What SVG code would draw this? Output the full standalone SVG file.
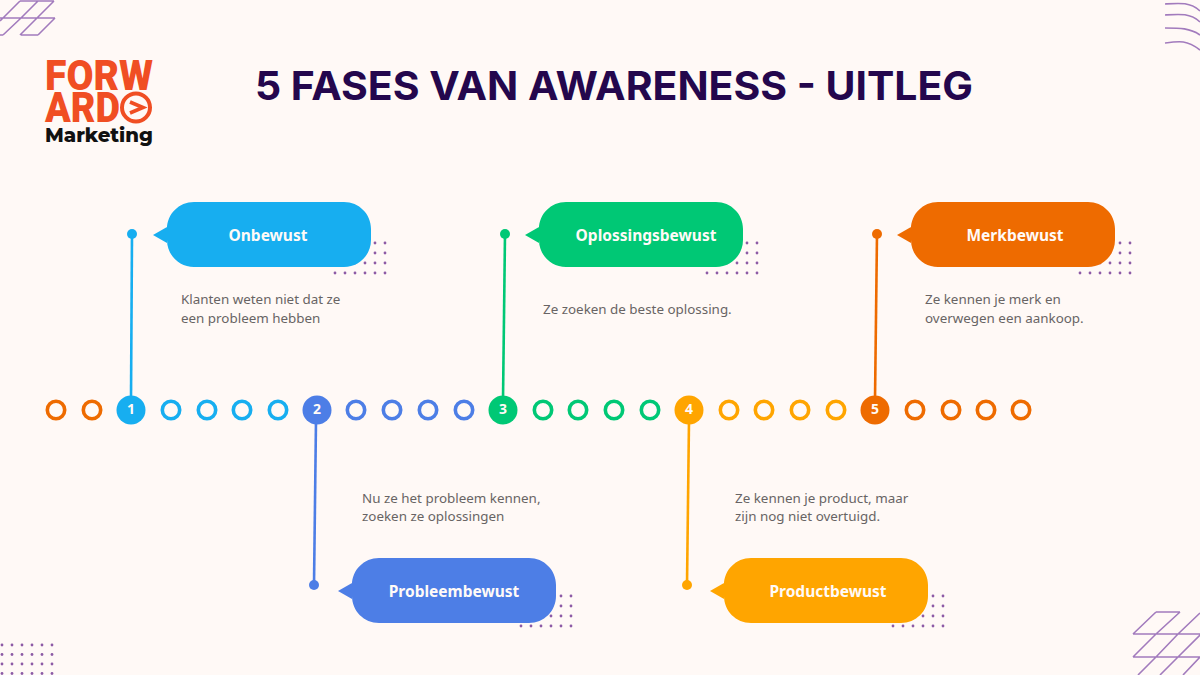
<svg xmlns="http://www.w3.org/2000/svg" width="1200" height="675" viewBox="0 0 1200 675">
<style>
.deco{fill:none;stroke:#a27bbd;stroke-width:1.6}
.label{font:700 15.5px "Noto Sans",sans-serif;fill:#fffaf7;text-anchor:middle}
.body{font:400 13.4px "Noto Sans",sans-serif;fill:#686464}
.num{font:700 14px "Noto Sans",sans-serif;fill:#fffaf7;text-anchor:middle}
.ring{fill:none;stroke-width:3.6}
.dot{fill:#8d5ba6}
.conn{fill:none;stroke-width:2.6}
.logo{font-family:"Roboto",sans-serif;font-weight:900;fill:#f04e23}
</style>
<defs>
<g id="dots"><g id="dotrow"><circle class="dot" cx="0" cy="0" r="1.4"/><circle class="dot" cx="10" cy="0" r="1.4"/><circle class="dot" cx="20" cy="0" r="1.4"/><circle class="dot" cx="30" cy="0" r="1.4"/><circle class="dot" cx="40" cy="0" r="1.4"/><circle class="dot" cx="50" cy="0" r="1.4"/></g><use href="#dotrow" y="10"/><use href="#dotrow" y="20"/><use href="#dotrow" y="30"/></g>
<path id="bubble" d="M0 25V27C0 12 12 0 27 0H177C192 0 204 12 204 27V38C204 53 192 65 177 65H27C12 65 0 53 0 38V41L-14 33L0 25Z"/>
</defs>
<rect width="1200" height="675" fill="#fff9f6"/>
<g id="decor">
<path class="deco" d="M20 1H54M0 18H55M0 35H3M21 35H38M54 1L37 18L20 35M55 18L38 35M38 1L21 18L3 35M20 1L3 18L0 21"/>
<path class="deco" d="M1165 4C1180 3 1190 2 1200 11M1165 15C1180 14 1190 13 1200 22M1165 28C1180 28 1190 28 1200 35M1165 43C1180 41 1187 40 1200 50"/>
<path class="deco" d="M1156 612H1180M1133 634H1200M1133 657H1200M1156 612L1133 634M1180 612L1156 634L1133 657M1200 613L1178 634L1156 657L1138 675M1200 635L1178 657L1160 675M1200 657L1183 675"/>
<g transform="translate(2,645)"><use href="#dotrow"/><use href="#dotrow" y="9.500"/><use href="#dotrow" y="19"/><use href="#dotrow" y="28.500"/></g>
<use href="#dots" transform="translate(335,243)"/>
<use href="#dots" transform="translate(521,596)"/>
<use href="#dots" transform="translate(707,243)"/>
<use href="#dots" transform="translate(893,596)"/>
<use href="#dots" transform="translate(1080,243)"/>
</g>
<g id="logo">
<text class="logo" x="45" y="90" font-size="42" textLength="108" lengthAdjust="spacingAndGlyphs">FORW</text>
<text class="logo" x="45" y="122" font-size="42" textLength="75" lengthAdjust="spacingAndGlyphs">ARD</text>
<circle cx="136" cy="107.500" r="14" fill="none" stroke="#f04e23" stroke-width="4"/>
<path d="M130 102L143 107.500L130 113" fill="none" stroke="#f04e23" stroke-width="3.600"/>
<text x="45" y="142" font-family="Montserrat,'Open Sans',sans-serif" font-weight="800" font-size="19" fill="#111" textLength="108" lengthAdjust="spacingAndGlyphs">Marketing</text>
</g>
<text id="title" x="614" y="100" font-family="Inter,'Noto Sans',sans-serif" font-weight="700" font-size="40" fill="#24074d" text-anchor="middle" textLength="718" lengthAdjust="spacingAndGlyphs">5 FASES VAN AWARENESS - UITLEG</text>
<g id="connectors">
<path class="conn" stroke="#17aef0" d="M132 234L131 400"/>
<path class="conn" stroke="#4d7ee6" d="M316 420L314 585"/>
<path class="conn" stroke="#00c875" d="M505 234L503 400"/>
<path class="conn" stroke="#ffa500" d="M689 420L687 585"/>
<path class="conn" stroke="#ee6b00" d="M877 234L875 400"/>
</g>
<g id="timeline">
<g stroke="#ee6b00" class="ring"><circle cx="56" cy="410" r="8.700"/><circle cx="92" cy="410" r="8.700"/></g>
<g stroke="#17aef0" class="ring"><circle cx="171" cy="410" r="8.700"/><circle cx="207" cy="410" r="8.700"/><circle cx="242" cy="410" r="8.700"/><circle cx="278" cy="410" r="8.700"/></g>
<g stroke="#4d7ee6" class="ring"><circle cx="356" cy="410" r="8.700"/><circle cx="392" cy="410" r="8.700"/><circle cx="428" cy="410" r="8.700"/><circle cx="464" cy="410" r="8.700"/></g>
<g stroke="#00c875" class="ring"><circle cx="543" cy="410" r="8.700"/><circle cx="578" cy="410" r="8.700"/><circle cx="614" cy="410" r="8.700"/><circle cx="650" cy="410" r="8.700"/></g>
<g stroke="#ffa500" class="ring"><circle cx="729" cy="410" r="8.700"/><circle cx="764" cy="410" r="8.700"/><circle cx="800" cy="410" r="8.700"/><circle cx="836" cy="410" r="8.700"/></g>
<g stroke="#ee6b00" class="ring"><circle cx="915" cy="410" r="8.700"/><circle cx="951" cy="410" r="8.700"/><circle cx="986" cy="410" r="8.700"/><circle cx="1021" cy="410" r="8.700"/></g>
</g>
<g id="node1"><circle cx="132" cy="234" r="5" fill="#17aef0"/><circle cx="131" cy="410" r="14.500" fill="#17aef0"/><text class="num" x="131" y="414">1</text>
<use href="#bubble" transform="translate(167,202)" fill="#17aef0"/><text class="label" x="268" y="241">Onbewust</text>
<text class="body" x="181" y="304">Klanten weten niet dat ze</text><text class="body" x="181" y="323">een probleem hebben</text></g>
<g id="node2"><circle cx="314" cy="585" r="5" fill="#4d7ee6"/><circle cx="317" cy="410" r="14.500" fill="#4d7ee6"/><text class="num" x="317" y="414">2</text>
<use href="#bubble" transform="translate(352,558)" fill="#4d7ee6"/><text class="label" x="454" y="597">Probleembewust</text>
<text class="body" x="362" y="503">Nu ze het probleem kennen,</text><text class="body" x="362" y="521">zoeken ze oplossingen</text></g>
<g id="node3"><circle cx="505" cy="234" r="5" fill="#00c875"/><circle cx="503" cy="410" r="14.500" fill="#00c875"/><text class="num" x="503" y="414">3</text>
<use href="#bubble" transform="translate(539,202)" fill="#00c875"/><text class="label" x="646" y="241">Oplossingsbewust</text>
<text class="body" x="543" y="314">Ze zoeken de beste oplossing.</text></g>
<g id="node4"><circle cx="687" cy="585" r="5" fill="#ffa500"/><circle cx="689" cy="410" r="14.500" fill="#ffa500"/><text class="num" x="689" y="414">4</text>
<use href="#bubble" transform="translate(724,558)" fill="#ffa500"/><text class="label" x="828" y="597">Productbewust</text>
<text class="body" x="735" y="503">Ze kennen je product, maar</text><text class="body" x="735" y="521">zijn nog niet overtuigd.</text></g>
<g id="node5"><circle cx="877" cy="234" r="5" fill="#ee6b00"/><circle cx="875" cy="410" r="14.500" fill="#ee6b00"/><text class="num" x="875" y="414">5</text>
<use href="#bubble" transform="translate(911,202)" fill="#ee6b00"/><text class="label" x="1015" y="241">Merkbewust</text>
<text class="body" x="925" y="304">Ze kennen je merk en</text><text class="body" x="925" y="323">overwegen een aankoop.</text></g>
</svg>
